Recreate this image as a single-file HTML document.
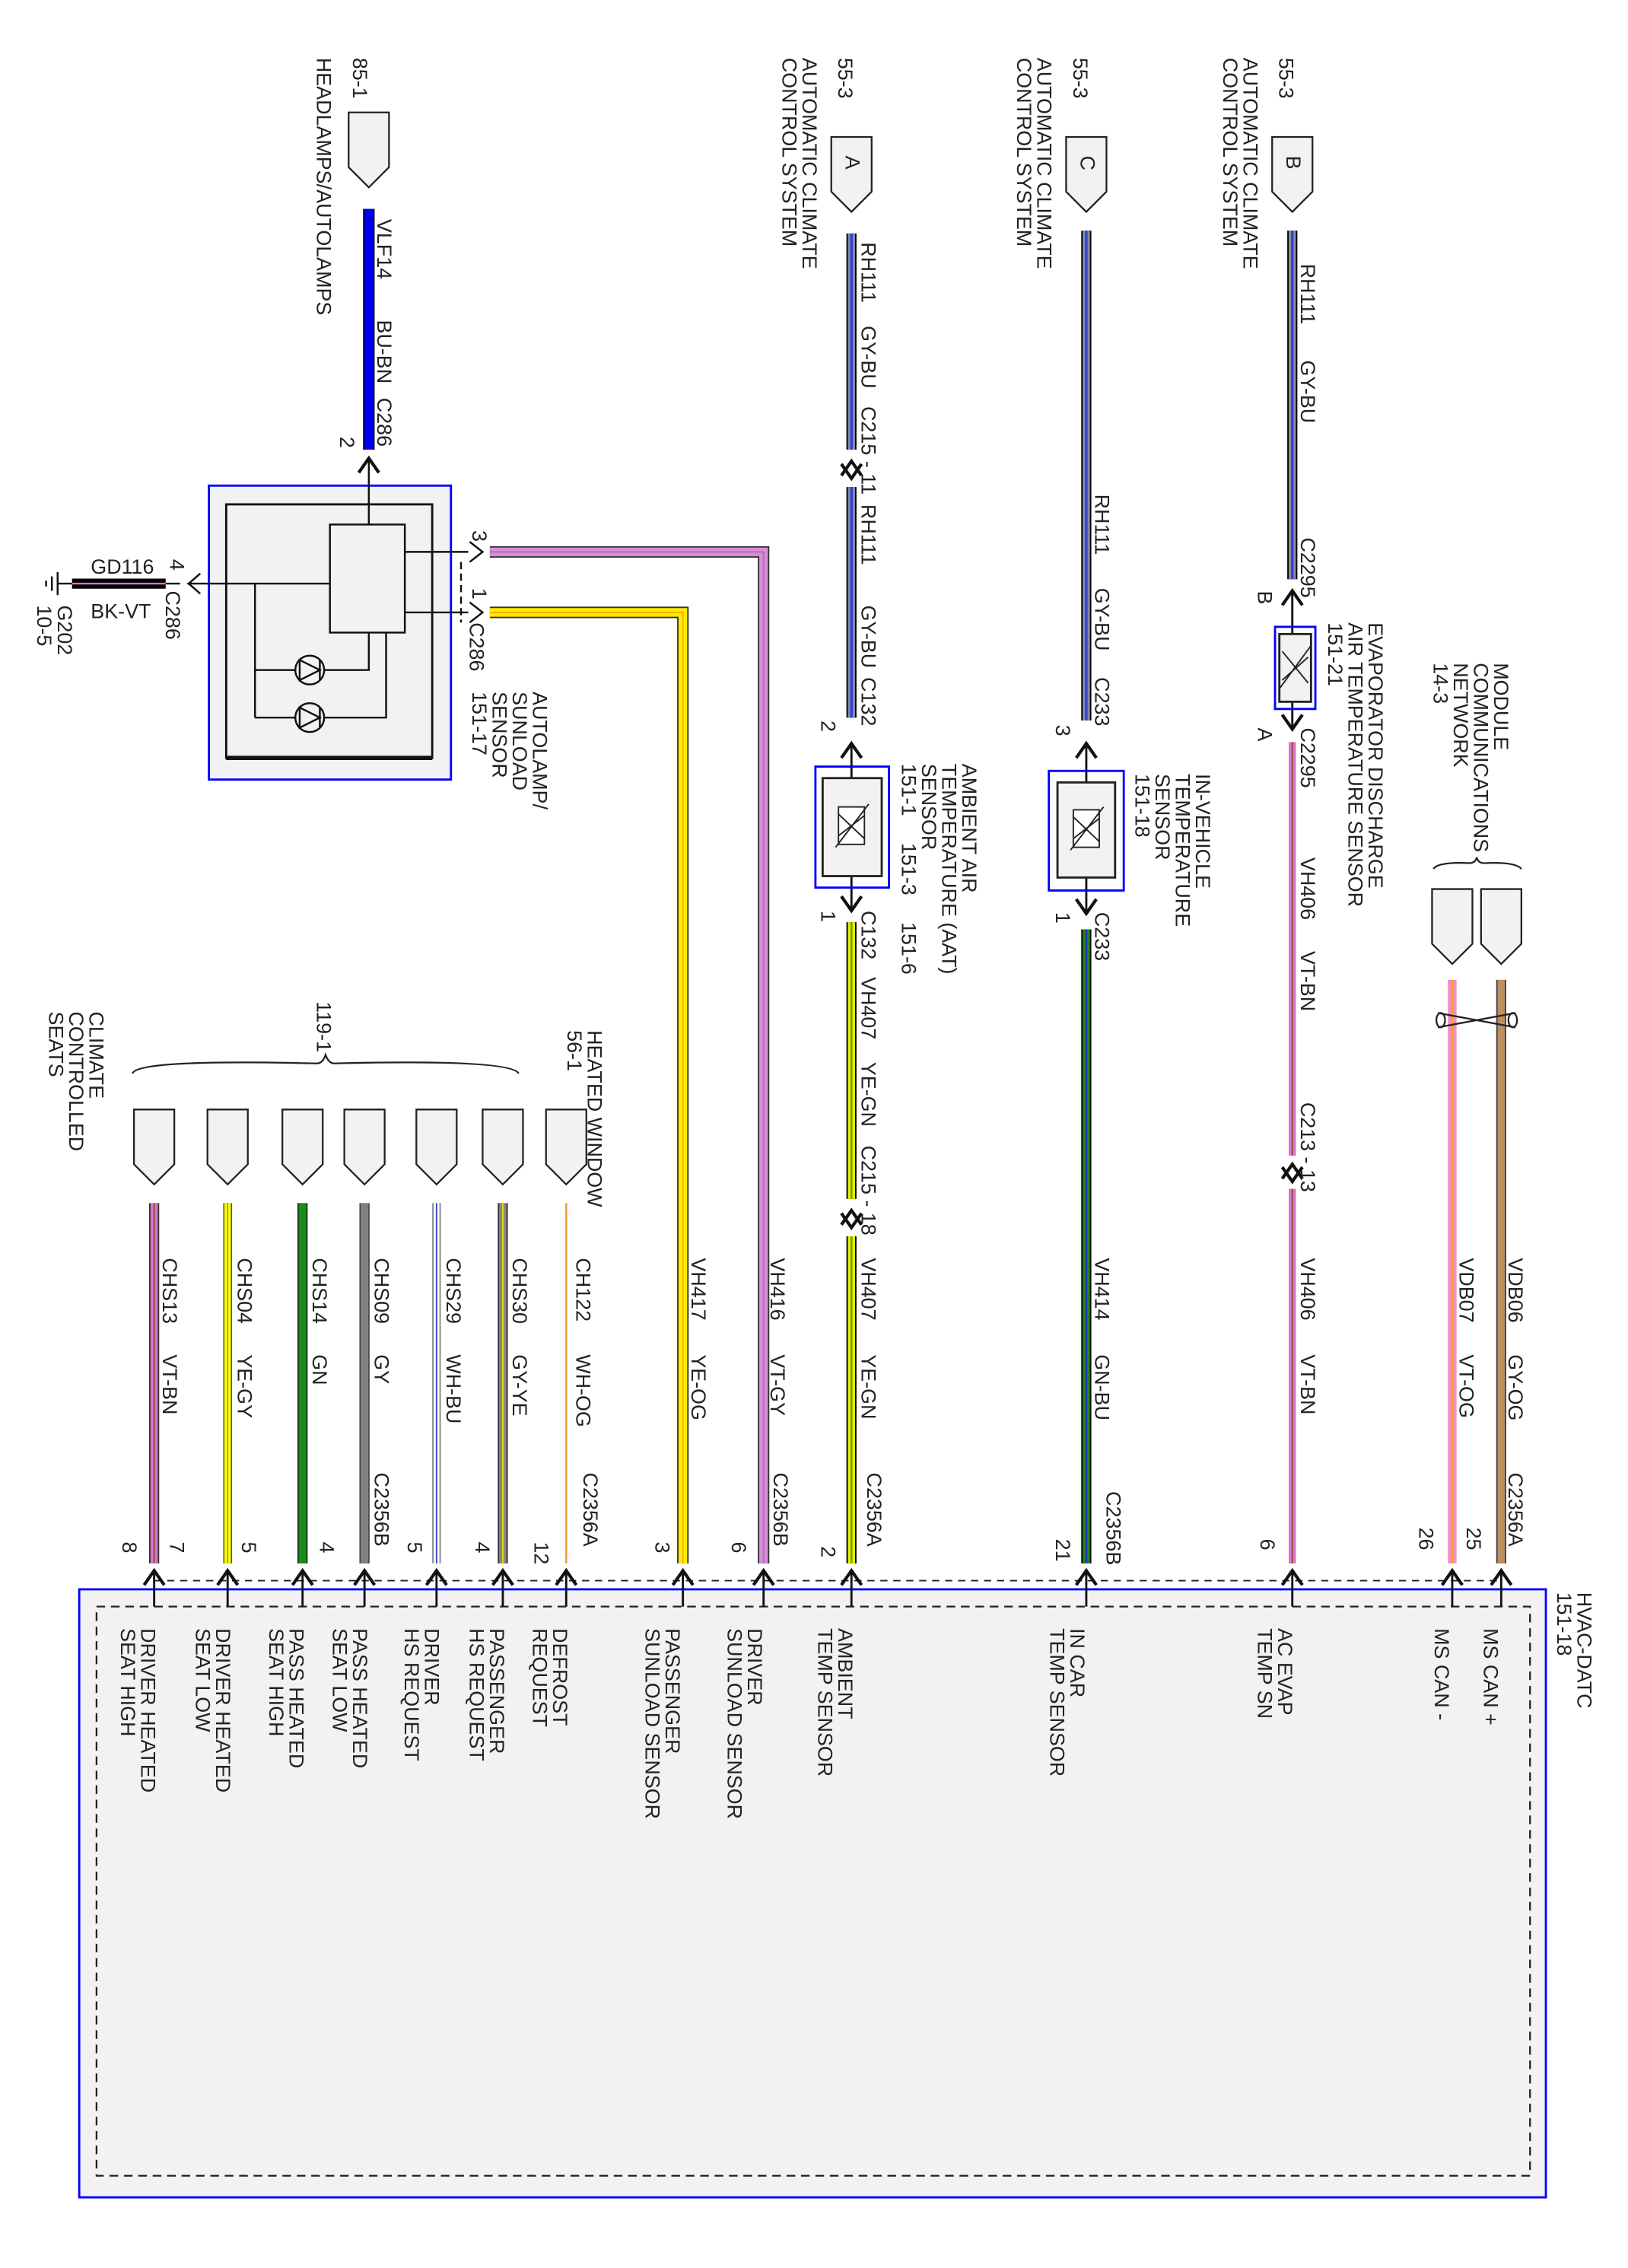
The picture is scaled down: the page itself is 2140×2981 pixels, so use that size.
<!DOCTYPE html>
<html><head><meta charset="utf-8"><style>
html,body{margin:0;padding:0;background:#fff}
svg{display:block}
text{font-family:"Liberation Sans Narrow","Liberation Sans",sans-serif;font-size:14.2px;fill:#222}
</style></head><body>
<svg width="2140" height="2981" viewBox="0 0 1130 1574" xmlns="http://www.w3.org/2000/svg">
<defs>
<g id="pent"><path d="M-14,0 L14,0 L14,38 L0,52 L-14,38 Z" fill="#f2f2f2" stroke="#222" stroke-width="1.2"/></g>
<g id="up"><path d="M-7,10 L0,0 L7,10" fill="none" stroke="#111" stroke-width="2.2"/></g>
<g id="dn"><path d="M-7,-10 L0,0 L7,-10" fill="none" stroke="#111" stroke-width="2.2"/></g>
</defs>

<rect x="55" y="1103" width="1018" height="422" fill="#f2f2f2" stroke="#0000ff" stroke-width="1.5"/>
<rect x="67" y="1115" width="995" height="395" fill="none" stroke="#222" stroke-width="1.2" stroke-dasharray="6,4"/>
<line x1="107" y1="1097" x2="1042" y2="1097" stroke="#222" stroke-width="1" stroke-dasharray="5,4"/>

<g stroke-linecap="butt">
<line x1="256" y1="145" x2="256" y2="312" stroke="#000" stroke-width="8"/>
<line x1="256" y1="145" x2="256" y2="312" stroke="#0000ee" stroke-width="6"/>
<line x1="591" y1="162" x2="591" y2="312" stroke="#000" stroke-width="7"/>
<line x1="591" y1="162" x2="591" y2="312" stroke="#8888aa" stroke-width="5"/>
<line x1="591" y1="162" x2="591" y2="312" stroke="#3344cc" stroke-width="1.8"/>
<line x1="591" y1="338" x2="591" y2="498" stroke="#000" stroke-width="7"/>
<line x1="591" y1="338" x2="591" y2="498" stroke="#8888aa" stroke-width="5"/>
<line x1="591" y1="338" x2="591" y2="498" stroke="#3344cc" stroke-width="1.8"/>
<line x1="591" y1="640" x2="591" y2="832" stroke="#000" stroke-width="7"/>
<line x1="591" y1="640" x2="591" y2="832" stroke="#eeee00" stroke-width="5"/>
<line x1="591" y1="640" x2="591" y2="832" stroke="#66aa00" stroke-width="1.4"/>
<line x1="591" y1="858" x2="591" y2="1085" stroke="#000" stroke-width="7"/>
<line x1="591" y1="858" x2="591" y2="1085" stroke="#eeee00" stroke-width="5"/>
<line x1="591" y1="858" x2="591" y2="1085" stroke="#66aa00" stroke-width="1.4"/>
<line x1="754" y1="160" x2="754" y2="500" stroke="#000" stroke-width="7"/>
<line x1="754" y1="160" x2="754" y2="500" stroke="#8888aa" stroke-width="5"/>
<line x1="754" y1="160" x2="754" y2="500" stroke="#3344cc" stroke-width="1.8"/>
<line x1="754" y1="645" x2="754" y2="1085" stroke="#000" stroke-width="7"/>
<line x1="754" y1="645" x2="754" y2="1085" stroke="#1a8a1a" stroke-width="5"/>
<line x1="754" y1="645" x2="754" y2="1085" stroke="#2233bb" stroke-width="1.4"/>
<line x1="897" y1="160" x2="897" y2="402" stroke="#000" stroke-width="7"/>
<line x1="897" y1="160" x2="897" y2="402" stroke="#8888aa" stroke-width="5"/>
<line x1="897" y1="160" x2="897" y2="402" stroke="#3344cc" stroke-width="1.8"/>
<line x1="897" y1="515" x2="897" y2="802" stroke="#e070d0" stroke-width="5"/>
<line x1="897" y1="515" x2="897" y2="802" stroke="#885533" stroke-width="1"/>
<line x1="897" y1="825" x2="897" y2="1085" stroke="#e070d0" stroke-width="5"/>
<line x1="897" y1="825" x2="897" y2="1085" stroke="#885533" stroke-width="1"/>
<line x1="1008" y1="680" x2="1008" y2="1085" stroke="#f090c0" stroke-width="6"/>
<line x1="1008" y1="680" x2="1008" y2="1085" stroke="#ff9933" stroke-width="1.4"/>
<line x1="1042" y1="680" x2="1042" y2="1085" stroke="#444" stroke-width="7"/>
<line x1="1042" y1="680" x2="1042" y2="1085" stroke="#b09070" stroke-width="5"/>
<line x1="1042" y1="680" x2="1042" y2="1085" stroke="#ee8822" stroke-width="1"/>
<path d="M340,383 L530,383 L530,1085" fill="none" stroke="#333" stroke-width="8"/>
<path d="M340,383 L530,383 L530,1085" fill="none" stroke="#e088e0" stroke-width="6"/>
<path d="M340,383 L530,383 L530,1085" fill="none" stroke="#888" stroke-width="1"/>
<path d="M340,425 L474,425 L474,1085" fill="none" stroke="#333" stroke-width="8"/>
<path d="M340,425 L474,425 L474,1085" fill="none" stroke="#ffee00" stroke-width="6"/>
<path d="M340,425 L474,425 L474,1085" fill="none" stroke="#ffaa00" stroke-width="1"/>
<line x1="393" y1="835" x2="393" y2="1085" stroke="#f5f5f5" stroke-width="3"/>
<line x1="393" y1="835" x2="393" y2="1085" stroke="#ee9933" stroke-width="1.2"/>
<line x1="349" y1="835" x2="349" y2="1085" stroke="#333" stroke-width="7"/>
<line x1="349" y1="835" x2="349" y2="1085" stroke="#888" stroke-width="5"/>
<line x1="349" y1="835" x2="349" y2="1085" stroke="#dddd00" stroke-width="1"/>
<line x1="303" y1="835" x2="303" y2="1085" stroke="#888" stroke-width="6"/>
<line x1="303" y1="835" x2="303" y2="1085" stroke="#fff" stroke-width="4"/>
<line x1="303" y1="835" x2="303" y2="1085" stroke="#3344cc" stroke-width="1"/>
<line x1="253" y1="835" x2="253" y2="1085" stroke="#333" stroke-width="7"/>
<line x1="253" y1="835" x2="253" y2="1085" stroke="#808080" stroke-width="5.5"/>
<line x1="210" y1="835" x2="210" y2="1085" stroke="#111" stroke-width="7"/>
<line x1="210" y1="835" x2="210" y2="1085" stroke="#1a8a1a" stroke-width="5.5"/>
<line x1="158" y1="835" x2="158" y2="1085" stroke="#444" stroke-width="6"/>
<line x1="158" y1="835" x2="158" y2="1085" stroke="#ffff00" stroke-width="4.5"/>
<line x1="158" y1="835" x2="158" y2="1085" stroke="#888" stroke-width="0.8"/>
<line x1="107" y1="835" x2="107" y2="1085" stroke="#333" stroke-width="7"/>
<line x1="107" y1="835" x2="107" y2="1085" stroke="#e070d0" stroke-width="5"/>
<line x1="107" y1="835" x2="107" y2="1085" stroke="#885533" stroke-width="1"/>
</g>

<use href="#pent" x="256" y="78"/>
<use href="#pent" x="591" y="95"/>
<use href="#pent" x="754" y="95"/>
<use href="#pent" x="897" y="95"/>
<text transform="translate(587,108) rotate(90)">A</text>
<text transform="translate(750,108) rotate(90)">C</text>
<text transform="translate(893,108) rotate(90)">B</text>
<use href="#pent" x="1008" y="617"/>
<use href="#pent" x="1042" y="617"/>
<g fill="none" stroke="#222" stroke-width="1.2">
<path d="M995,603 Q998,598 1020,599 Q1024,599 1025,595 Q1026,599 1030,599 Q1052,598 1056,603"/>
<path d="M92,745 Q95,735 220,738 Q224,738 226,732 Q228,738 232,738 Q355,735 360,745"/>
<path d="M998,703 L1052,713 M998,713 L1052,703"/>
<ellipse cx="1000" cy="708" rx="3" ry="5"/><ellipse cx="1050" cy="708" rx="3" ry="5"/>
</g>
<use href="#pent" x="107" y="770"/><use href="#pent" x="158" y="770"/><use href="#pent" x="210" y="770"/>
<use href="#pent" x="253" y="770"/><use href="#pent" x="303" y="770"/><use href="#pent" x="349" y="770"/><use href="#pent" x="393" y="770"/>

<g>
<use href="#up" x="107" y="1090"/><use href="#up" x="158" y="1090"/><use href="#up" x="210" y="1090"/><use href="#up" x="253" y="1090"/>
<use href="#up" x="303" y="1090"/><use href="#up" x="349" y="1090"/><use href="#up" x="393" y="1090"/><use href="#up" x="474" y="1090"/>
<use href="#up" x="530" y="1090"/><use href="#up" x="591" y="1090"/><use href="#up" x="754" y="1090"/><use href="#up" x="897" y="1090"/>
<use href="#up" x="1008" y="1090"/><use href="#up" x="1042" y="1090"/>
<use href="#up" x="256" y="318"/>
<use href="#up" x="591" y="320"/><use href="#dn" x="591" y="332"/>
<use href="#up" x="591" y="516"/><use href="#dn" x="591" y="632"/>
<use href="#up" x="591" y="840"/><use href="#dn" x="591" y="852"/>
<use href="#up" x="754" y="516"/><use href="#dn" x="754" y="634"/>
<use href="#up" x="897" y="410"/><use href="#dn" x="897" y="506"/>
<use href="#up" x="897" y="808"/><use href="#dn" x="897" y="820"/>
</g>
<g stroke="#111" stroke-width="1.5">
<line x1="107" y1="1090" x2="107" y2="1115"/><line x1="158" y1="1090" x2="158" y2="1115"/><line x1="210" y1="1090" x2="210" y2="1115"/>
<line x1="253" y1="1090" x2="253" y2="1115"/><line x1="303" y1="1090" x2="303" y2="1115"/><line x1="349" y1="1090" x2="349" y2="1115"/>
<line x1="393" y1="1090" x2="393" y2="1115"/><line x1="474" y1="1090" x2="474" y2="1115"/><line x1="530" y1="1090" x2="530" y2="1115"/>
<line x1="591" y1="1090" x2="591" y2="1115"/><line x1="754" y1="1090" x2="754" y2="1115"/><line x1="897" y1="1090" x2="897" y2="1115"/>
<line x1="1008" y1="1090" x2="1008" y2="1115"/><line x1="1042" y1="1090" x2="1042" y2="1115"/>
<line x1="591" y1="516" x2="591" y2="632"/><line x1="754" y1="516" x2="754" y2="634"/><line x1="897" y1="410" x2="897" y2="506"/>
</g>

<rect x="566" y="532" width="51" height="84" fill="none" stroke="#0000ff" stroke-width="1.5"/>
<rect x="571" y="540" width="41" height="68" fill="#f2f2f2" stroke="#222" stroke-width="1.5"/>
<rect x="582" y="560" width="18" height="26" fill="#fff" stroke="#222"/>
<path d="M580,588 L603,558 M582,565 L600,582 M582,580 L600,566" stroke="#222" fill="none"/>
<rect x="728" y="535" width="52" height="83" fill="none" stroke="#0000ff" stroke-width="1.5"/>
<rect x="734" y="543" width="40" height="66" fill="#f2f2f2" stroke="#222" stroke-width="1.5"/>
<rect x="745" y="562" width="18" height="26" fill="#fff" stroke="#222"/>
<path d="M743,590 L766,560 M745,567 L763,584 M745,582 L763,568" stroke="#222" fill="none"/>
<rect x="885" y="435" width="28" height="57" fill="none" stroke="#0000ff" stroke-width="1.5"/>
<rect x="888" y="440" width="22" height="47" fill="#f2f2f2" stroke="#222" stroke-width="1.5"/>
<path d="M888,478 L910,448 M890,452 L908,474 M890,472 L908,456" stroke="#222" fill="none"/>

<rect x="145" y="337" width="168" height="204" fill="#f2f2f2" stroke="#0000ff" stroke-width="1.5"/>
<rect x="157" y="350" width="143" height="176" fill="#f2f2f2" stroke="#111" stroke-width="1.5"/>
<line x1="157" y1="526" x2="300" y2="526" stroke="#111" stroke-width="3"/>
<rect x="229" y="364" width="52" height="75" fill="#f2f2f2" stroke="#111" stroke-width="1.3"/>
<g stroke="#111" stroke-width="1.3" fill="none">
<line x1="256" y1="318" x2="256" y2="364"/>
<line x1="281" y1="383" x2="325" y2="383"/><line x1="281" y1="425" x2="325" y2="425"/>
<line x1="130" y1="405" x2="229" y2="405"/>
<line x1="177" y1="405" x2="177" y2="498"/>
<path d="M177,465 L256,465 L256,439"/><path d="M177,498 L268,498 L268,439"/>
<circle cx="215" cy="465" r="10" fill="#f2f2f2"/><circle cx="215" cy="498" r="10" fill="#f2f2f2"/>
<path d="M208,458 L208,472 L222,465 Z M222,458 L222,472"/>
<path d="M208,491 L208,505 L222,498 Z M222,491 L222,505"/>
<line x1="320" y1="390" x2="320" y2="432" stroke-dasharray="5,3"/>
<path d="M326,376 L335,383 L326,390"/><path d="M326,418 L335,425 L326,432"/>
<path d="M139,398 L131,405 L139,412"/>
</g>
<line x1="40" y1="405" x2="125" y2="405" stroke="#111" stroke-width="1.3"/>
<line x1="50" y1="405" x2="115" y2="405" stroke="#000" stroke-width="7"/>
<line x1="50" y1="405" x2="115" y2="405" stroke="#e070d0" stroke-width="1.3"/>
<g stroke="#111" stroke-width="1.3"><line x1="40" y1="397" x2="40" y2="413"/><line x1="36" y1="400" x2="36" y2="410"/><line x1="32" y1="403" x2="32" y2="407"/></g>
<text x="63" y="398">GD116</text>
<text x="63" y="429">BK-VT</text>

<g>
<text transform="translate(245,40) rotate(90)">85-1</text>
<text transform="translate(220,40) rotate(90)">HEADLAMPS/AUTOLAMPS</text>
<text transform="translate(262,152) rotate(90)">VLF14</text>
<text transform="translate(262,222) rotate(90)">BU-BN</text>
<text transform="translate(262,276) rotate(90)">C286</text>
<text transform="translate(236,303) rotate(90)">2</text>
<text transform="translate(118,388) rotate(90)">4</text>
<text transform="translate(115,410) rotate(90)">C286</text>
<text transform="translate(40,420) rotate(90)">G202</text>
<text transform="translate(26,420) rotate(90)">10-5</text>
<text transform="translate(328,368) rotate(90)">3</text>
<text transform="translate(328,408) rotate(90)">1</text>
<text transform="translate(326,432) rotate(90)">C286</text>
<text transform="translate(370,480) rotate(90)">AUTOLAMP/</text>
<text transform="translate(356,480) rotate(90)">SUNLOAD</text>
<text transform="translate(342,480) rotate(90)">SENSOR</text>
<text transform="translate(328,480) rotate(90)">151-17</text>

<text transform="translate(582,40) rotate(90)">55-3</text>
<text transform="translate(557,40) rotate(90)">AUTOMATIC CLIMATE</text>
<text transform="translate(543,40) rotate(90)">CONTROL SYSTEM</text>
<text transform="translate(598,168) rotate(90)">RH111</text>
<text transform="translate(598,226) rotate(90)">GY-BU</text>
<text transform="translate(598,282) rotate(90)">C215 - 11</text>
<text transform="translate(598,350) rotate(90)">RH111</text>
<text transform="translate(598,420) rotate(90)">GY-BU</text>
<text transform="translate(598,470) rotate(90)">C132</text>
<text transform="translate(570,500) rotate(90)">2</text>
<text transform="translate(668,530) rotate(90)">AMBIENT AIR</text>
<text transform="translate(654,530) rotate(90)">TEMPERATURE (AAT)</text>
<text transform="translate(640,530) rotate(90)">SENSOR</text>
<text transform="translate(626,530) rotate(90)">151-1</text>
<text transform="translate(626,585) rotate(90)">151-3</text>
<text transform="translate(626,640) rotate(90)">151-6</text>
<text transform="translate(570,632) rotate(90)">1</text>
<text transform="translate(598,632) rotate(90)">C132</text>
<text transform="translate(598,678) rotate(90)">VH407</text>
<text transform="translate(598,737) rotate(90)">YE-GN</text>
<text transform="translate(598,795) rotate(90)">C215 - 18</text>
<text transform="translate(598,873) rotate(90)">VH407</text>
<text transform="translate(598,940) rotate(90)">YE-GN</text>
<text transform="translate(602,1022) rotate(90)">C2356A</text>
<text transform="translate(570,1073) rotate(90)">2</text>

<text transform="translate(745,40) rotate(90)">55-3</text>
<text transform="translate(720,40) rotate(90)">AUTOMATIC CLIMATE</text>
<text transform="translate(706,40) rotate(90)">CONTROL SYSTEM</text>
<text transform="translate(760,343) rotate(90)">RH111</text>
<text transform="translate(760,408) rotate(90)">GY-BU</text>
<text transform="translate(760,470) rotate(90)">C233</text>
<text transform="translate(733,503) rotate(90)">3</text>
<text transform="translate(830,537) rotate(90)">IN-VEHICLE</text>
<text transform="translate(816,537) rotate(90)">TEMPERATURE</text>
<text transform="translate(802,537) rotate(90)">SENSOR</text>
<text transform="translate(788,537) rotate(90)">151-18</text>
<text transform="translate(733,633) rotate(90)">1</text>
<text transform="translate(760,633) rotate(90)">C233</text>
<text transform="translate(760,873) rotate(90)">VH414</text>
<text transform="translate(760,940) rotate(90)">GN-BU</text>
<text transform="translate(768,1035) rotate(90)">C2356B</text>
<text transform="translate(733,1068) rotate(90)">21</text>

<text transform="translate(888,40) rotate(90)">55-3</text>
<text transform="translate(863,40) rotate(90)">AUTOMATIC CLIMATE</text>
<text transform="translate(849,40) rotate(90)">CONTROL SYSTEM</text>
<text transform="translate(903,183) rotate(90)">RH111</text>
<text transform="translate(903,250) rotate(90)">GY-BU</text>
<text transform="translate(903,373) rotate(90)">C2295</text>
<text transform="translate(873,410) rotate(90)">B</text>
<text transform="translate(950,432) rotate(90)">EVAPORATOR DISCHARGE</text>
<text transform="translate(936,432) rotate(90)">AIR TEMPERATURE SENSOR</text>
<text transform="translate(922,432) rotate(90)">151-21</text>
<text transform="translate(873,505) rotate(90)">A</text>
<text transform="translate(903,505) rotate(90)">C2295</text>
<text transform="translate(903,595) rotate(90)">VH406</text>
<text transform="translate(903,660) rotate(90)">VT-BN</text>
<text transform="translate(903,765) rotate(90)">C213 -  13</text>
<text transform="translate(903,873) rotate(90)">VH406</text>
<text transform="translate(903,940) rotate(90)">VT-BN</text>
<text transform="translate(875,1068) rotate(90)">6</text>

<text transform="translate(1037,460) rotate(90)">MODULE</text>
<text transform="translate(1023,460) rotate(90)">COMMUNICATIONS</text>
<text transform="translate(1009,460) rotate(90)">NETWORK</text>
<text transform="translate(995,460) rotate(90)">14-3</text>
<text transform="translate(1047,873) rotate(90)">VDB06</text>
<text transform="translate(1047,940) rotate(90)">GY-OG</text>
<text transform="translate(1047,1022) rotate(90)">C2356A</text>
<text transform="translate(1018,1060) rotate(90)">25</text>
<text transform="translate(1013,873) rotate(90)">VDB07</text>
<text transform="translate(1013,940) rotate(90)">VT-OG</text>
<text transform="translate(985,1060) rotate(90)">26</text>

<text transform="translate(1095,1105) rotate(90)">HVAC-DATC</text>
<text transform="translate(1081,1105) rotate(90)">151-18</text>
<text transform="translate(1030,1130) rotate(90)">MS CAN +</text>
<text transform="translate(996,1130) rotate(90)">MS CAN -</text>
<text transform="translate(887,1130) rotate(90)">AC EVAP</text>
<text transform="translate(873,1130) rotate(90)">TEMP SN</text>
<text transform="translate(743,1130) rotate(90)">IN CAR</text>
<text transform="translate(729,1130) rotate(90)">TEMP SENSOR</text>
<text transform="translate(582,1130) rotate(90)">AMBIENT</text>
<text transform="translate(568,1130) rotate(90)">TEMP SENSOR</text>
<text transform="translate(519,1130) rotate(90)">DRIVER</text>
<text transform="translate(505,1130) rotate(90)">SUNLOAD SENSOR</text>
<text transform="translate(462,1130) rotate(90)">PASSENGER</text>
<text transform="translate(448,1130) rotate(90)">SUNLOAD SENSOR</text>
<text transform="translate(384,1130) rotate(90)">DEFROST</text>
<text transform="translate(370,1130) rotate(90)">REQUEST</text>
<text transform="translate(340,1130) rotate(90)">PASSENGER</text>
<text transform="translate(326,1130) rotate(90)">HS REQUEST</text>
<text transform="translate(295,1130) rotate(90)">DRIVER</text>
<text transform="translate(281,1130) rotate(90)">HS REQUEST</text>
<text transform="translate(245,1130) rotate(90)">PASS HEATED</text>
<text transform="translate(231,1130) rotate(90)">SEAT LOW</text>
<text transform="translate(201,1130) rotate(90)">PASS HEATED</text>
<text transform="translate(187,1130) rotate(90)">SEAT HIGH</text>
<text transform="translate(150,1130) rotate(90)">DRIVER HEATED</text>
<text transform="translate(136,1130) rotate(90)">SEAT LOW</text>
<text transform="translate(98,1130) rotate(90)">DRIVER HEATED</text>
<text transform="translate(84,1130) rotate(90)">SEAT HIGH</text>

<text transform="translate(408,715) rotate(90)">HEATED WINDOW</text>
<text transform="translate(394,715) rotate(90)">56-1</text>
<text transform="translate(220,695) rotate(90)">119-1</text>
<text transform="translate(62,702) rotate(90)">CLIMATE</text>
<text transform="translate(48,702) rotate(90)">CONTROLLED</text>
<text transform="translate(34,702) rotate(90)">SEATS</text>

<text transform="translate(400,873) rotate(90)">CH122</text><text transform="translate(400,940) rotate(90)">WH-OG</text>
<text transform="translate(356,873) rotate(90)">CHS30</text><text transform="translate(356,940) rotate(90)">GY-YE</text>
<text transform="translate(310,873) rotate(90)">CHS29</text><text transform="translate(310,940) rotate(90)">WH-BU</text>
<text transform="translate(260,873) rotate(90)">CHS09</text><text transform="translate(260,940) rotate(90)">GY</text>
<text transform="translate(217,873) rotate(90)">CHS14</text><text transform="translate(217,940) rotate(90)">GN</text>
<text transform="translate(165,873) rotate(90)">CHS04</text><text transform="translate(165,940) rotate(90)">YE-GY</text>
<text transform="translate(113,873) rotate(90)">CHS13</text><text transform="translate(113,940) rotate(90)">VT-BN</text>
<text transform="translate(405,1022) rotate(90)">C2356A</text>
<text transform="translate(260,1022) rotate(90)">C2356B</text>
<text transform="translate(535,873) rotate(90)">VH416</text><text transform="translate(535,940) rotate(90)">VT-GY</text>
<text transform="translate(537,1022) rotate(90)">C2356B</text>
<text transform="translate(508,1070) rotate(90)">6</text>
<text transform="translate(480,873) rotate(90)">VH417</text><text transform="translate(480,940) rotate(90)">YE-OG</text>
<text transform="translate(455,1070) rotate(90)">3</text>
<text transform="translate(371,1070) rotate(90)">12</text>
<text transform="translate(330,1070) rotate(90)">4</text>
<text transform="translate(283,1070) rotate(90)">5</text>
<text transform="translate(222,1070) rotate(90)">4</text>
<text transform="translate(168,1070) rotate(90)">5</text>
<text transform="translate(118,1070) rotate(90)">7</text>
<text transform="translate(85,1070) rotate(90)">8</text>
</g>
</svg>
</body></html>
